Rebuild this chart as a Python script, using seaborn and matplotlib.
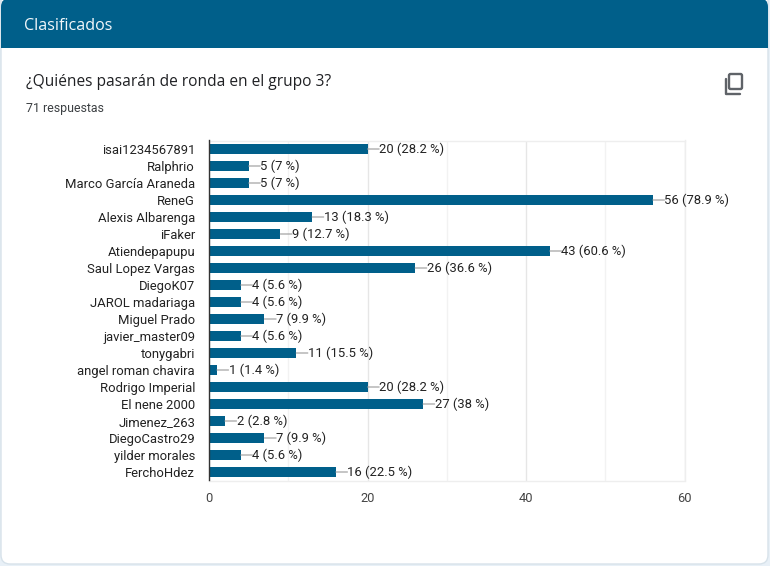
import matplotlib
matplotlib.use("Agg")
import matplotlib.pyplot as plt
from matplotlib.patches import FancyBboxPatch, Rectangle
import seaborn as sns
import pandas as pd

names = ["isai1234567891", "Ralphrio", "Marco García Araneda", "ReneG", "Alexis Albarenga", "iFaker",
         "Atiendepapupu", "Saul Lopez Vargas", "DiegoK07", "JAROL madariaga", "Miguel Prado", "javier_master09",
         "tonygabri", "angel roman chavira", "Rodrigo Imperial", "El nene 2000", "Jimenez_263", "DiegoCastro29",
         "yilder morales", "FerchoHdez"]
votes = [20, 5, 5, 56, 13, 9, 43, 26, 4, 4, 7, 4, 11, 1, 20, 27, 2, 7, 4, 16]
percents = ["28.2", "7", "7", "78.9", "18.3", "12.7", "60.6", "36.6", "5.6", "5.6", "9.9", "5.6", "15.5", "1.4",
            "28.2", "38", "2.8", "9.9", "5.6", "22.5"]
x_ticks = [0, 20, 40, 60]
x_grid = [10, 30, 50]

W, H = 770, 566
BLUE = "#005f8a"
sns.set_theme(style="white")
plt.rcParams["font.family"] = ["Roboto", "DejaVu Sans"]

fig = plt.figure(figsize=(W / 100, H / 100), dpi=100, facecolor="#e8f0f7")
bg = fig.add_axes([0, 0, 1, 1], zorder=0)
bg.set_xlim(0, W); bg.set_ylim(H, 0); bg.axis("off")
bg.add_patch(FancyBboxPatch((1, -30), W - 3, H + 24 + 4, boxstyle="round,pad=0,rounding_size=9",
                            fc="white", ec="#d7e2ea", lw=1))
bg.add_patch(FancyBboxPatch((1, -2), W - 3, 50, boxstyle="round,pad=0,rounding_size=9", fc=BLUE, ec="none"))
bg.add_patch(Rectangle((1, 30), W - 3, 18, fc=BLUE, ec="none"))
bg.text(24, 25.5, "Clasificados", color="#f2f7fa", fontsize=11.6, family=["Open Sans", "DejaVu Sans"], va="center")
bg.text(26, 81.5, "¿Quiénes pasarán de ronda en el grupo 3?", color="#202124", fontsize=11.2,
        family=["Open Sans", "DejaVu Sans"], va="center")
bg.text(26, 108.5, "71 respuestas", color="#3c4043", fontsize=8.9, va="center")
# copy icon
bg.add_patch(FancyBboxPatch((729, 74), 13, 15, boxstyle="round,pad=0,rounding_size=1.5", fc="none", ec="#5f6368", lw=1.7))
bg.plot([725.5, 725.5, 739.5], [79, 94, 94], color="#5f6368", lw=1.7, solid_joinstyle="round")

left, right, top, bottom = 209.0, 684.5, 140.5, 480.5
ax = fig.add_axes([left / W, 1 - bottom / H, (right - left) / W, (bottom - top) / H], zorder=1)
ax.patch.set_alpha(0)
df = pd.DataFrame({"name": names, "votes": votes})
sns.barplot(data=df, y="name", x="votes", color=BLUE, saturation=1, width=0.6, ax=ax, zorder=3, legend=False)
for b in ax.patches:
    b.set_edgecolor("none")
ax.set_xlim(0, 60)
ax.set_ylim(len(names) - 0.5, -0.5)
ax.set_xlabel(""); ax.set_ylabel("")
ax.set_xticks(x_ticks)
ax.set_xticks(x_grid, minor=True)
ax.grid(True, axis="x", which="major", color="#e6e6e6", lw=1, zorder=0)
ax.grid(True, axis="x", which="minor", color="#f2f2f2", lw=1, zorder=0)
ax.grid(False, axis="y")
ax.tick_params(axis="x", which="both", length=0, pad=8, labelsize=9.3, labelcolor="#444444")
ax.tick_params(axis="y", length=0, pad=10, labelsize=9.4, labelcolor="#222222")
for s in ["top", "right", "bottom"]:
    ax.spines[s].set_visible(True)
    ax.spines[s].set_color("#eeeeee")
    ax.spines[s].set_linewidth(1)
ax.spines["left"].set_color("#333333")
ax.spines["left"].set_linewidth(1)
ax.spines["left"].set_zorder(5)

for i, (v, p) in enumerate(zip(votes, percents)):
    ax.annotate(f"{v} ({p} %)", xy=(v, i), xytext=(8.4, 0), textcoords="offset points",
                ha="left", va="center", fontsize=9.4, color="#222222", annotation_clip=False,
                arrowprops=dict(arrowstyle="-", color="#999999", lw=0.8, shrinkA=0, shrinkB=0,
                                patchA=None, relpos=(0, 0.5)), zorder=4)

fig.savefig("out.png", dpi=100, facecolor=fig.get_facecolor())
